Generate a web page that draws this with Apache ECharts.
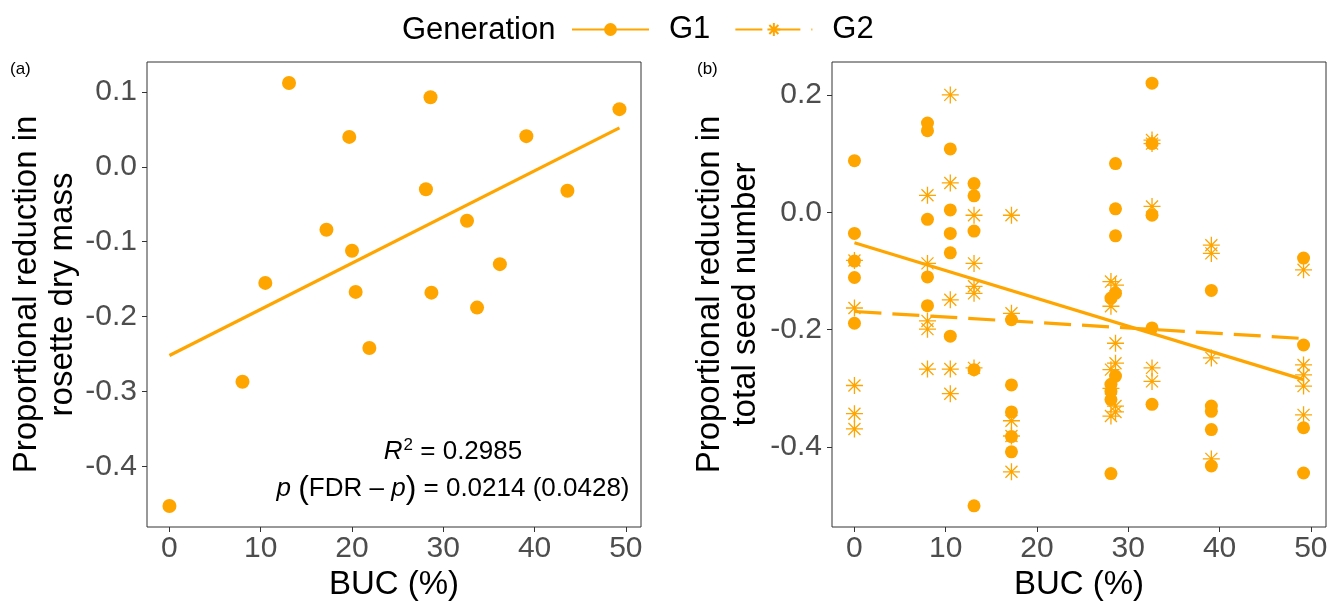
<!DOCTYPE html>
<html><head><meta charset="utf-8">
<script src="https://cdn.jsdelivr.net/npm/echarts@6/dist/echarts.min.js"></script>
<style>html,body{margin:0;padding:0;background:#fff}#c{width:1330px;height:601px}</style>
</head><body><div id="c"></div>
<script>
// ---- Panel (a): rosette dry mass ----
const bucA  = [0, 8.0, 10.5, 13.1, 17.2, 19.7, 20.0, 20.4, 21.9, 28.1, 28.6, 28.7, 32.6, 33.7, 36.2, 39.1, 43.6, 49.3];
const massA = [-0.453, -0.287, -0.155, 0.112, -0.084, 0.040, -0.112, -0.167, -0.242, -0.030, 0.093, -0.168, -0.072, -0.188, -0.130, 0.041, -0.032, 0.077];
const fitAX = [0, 49.3];
const fitAY = [-0.252, 0.052];

// ---- Panel (b): total seed number ----
const bucB = [0, 8.0, 10.5, 13.1, 17.2, 28.1, 28.6, 32.6, 39.1, 49.2];
const seedG1 = [
  [0.088, -0.036, -0.083, -0.111, -0.189],
  [0.152, 0.139, -0.012, -0.110, -0.159],
  [0.108, 0.004, -0.036, -0.069, -0.211],
  [0.049, 0.028, -0.032, -0.268, -0.500],
  [-0.183, -0.294, -0.340, -0.382, -0.408],
  [-0.146, -0.293, -0.305, -0.319, -0.445],
  [0.083, 0.006, -0.040, -0.138, -0.279],
  [0.220, 0.117, -0.005, -0.197, -0.327],
  [-0.133, -0.330, -0.339, -0.370, -0.432],
  [-0.078, -0.226, -0.367, -0.444]
];
const seedG2 = [
  [-0.082, -0.163, -0.295, -0.343, -0.369],
  [0.029, -0.087, -0.185, -0.199, -0.267],
  [0.200, 0.050, -0.149, -0.267, -0.309],
  [-0.005, -0.087, -0.126, -0.138, -0.265],
  [-0.005, -0.172, -0.355, -0.381, -0.442],
  [-0.118, -0.160, -0.268, -0.300, -0.347],
  [-0.124, -0.223, -0.257, -0.330, -0.340],
  [0.123, 0.117, 0.010, -0.265, -0.288],
  [-0.056, -0.070, -0.248, -0.420],
  [-0.098, -0.260, -0.277, -0.296, -0.345]
];
const fitBX  = [0, 49.2];
const fitG1Y = [-0.052, -0.285];
const fitG2Y = [-0.169, -0.215];

// ---- ticks ----
const xTicks  = [0, 10, 20, 30, 40, 50];
const yTicksA = [-0.4, -0.3, -0.2, -0.1, 0, 0.1];
const yTicksB = [-0.4, -0.2, 0, 0.2];

const ORANGE = '#FFA500';
const FONT = '"Liberation Sans", Arial, Helvetica, sans-serif';
const STAR = 'path://M10,0L10,20M0,10L20,10M2.93,2.93L17.07,17.07M2.93,17.07L17.07,2.93';

const pairs = (xs, ys) => xs.map((x, i) => [x, ys[i]]);
const cols = (xs, groups) => groups.flatMap((g, i) => g.map(v => [xs[i], v]));

function xAxisCfg(gi) {
  return {
    type: 'value', gridIndex: gi, min: -2.46, max: 51.66,
    axisLine: { show: false, onZero: false },
    splitLine: { show: false },
    axisTick: { show: true, length: 5, lineStyle: { color: '#333', width: 1 }, customValues: xTicks },
    axisLabel: { customValues: xTicks, fontSize: 30, color: '#4D4D4D', margin: 7, fontFamily: FONT },
    name: 'BUC (%)', nameLocation: 'middle', nameGap: 36,
    nameTextStyle: { fontSize: 33, color: '#000', fontFamily: FONT }
  };
}
function yAxisCfg(gi, min, max, ticks, name, gap) {
  return {
    type: 'value', gridIndex: gi, min: min, max: max,
    axisLine: { show: false, onZero: false },
    splitLine: { show: false },
    axisTick: { show: true, length: 5, lineStyle: { color: '#333', width: 1 }, customValues: ticks },
    axisLabel: { customValues: ticks, fontSize: 30, color: '#4D4D4D', margin: 10, fontFamily: FONT,
                 formatter: v => v.toFixed(1) },
    name: name, nameLocation: 'middle', nameRotate: 90, nameGap: gap,
    nameTextStyle: { fontSize: 33, color: '#000', fontFamily: FONT, lineHeight: 36, align: 'center' }
  };
}

const chart = echarts.init(document.getElementById('c'), null, { renderer: 'canvas' });
chart.setOption({
  animation: false,
  backgroundColor: '#fff',
  title: {
    text: 'Generation', left: 397, top: 10,
    textStyle: { fontSize: 31, fontWeight: 'normal', color: '#000', fontFamily: FONT }
  },
  legend: {
    data: ['G1', 'G2'], left: 566, top: 9, itemWidth: 77, itemHeight: 16, itemGap: 24,
    textStyle: { fontSize: 31, color: '#000', fontFamily: FONT, padding: [0, 0, 0, 15] }
  },
  grid: [
    { left: 147, top: 62, width: 494, height: 465, show: true, borderColor: '#333', borderWidth: 1,
      backgroundColor: 'transparent', containLabel: false, outerBoundsMode: 'none' },
    { left: 832, top: 62, width: 494, height: 465, show: true, borderColor: '#333', borderWidth: 1,
      backgroundColor: 'transparent', containLabel: false, outerBoundsMode: 'none' }
  ],
  xAxis: [xAxisCfg(0), xAxisCfg(1)],
  yAxis: [
    yAxisCfg(0, -0.481, 0.140, yTicksA, 'Proportional reduction in\nrosette dry mass', 61),
    yAxisCfg(1, -0.536, 0.256, yTicksB, 'Proportional reduction in\ntotal seed number', 68)
  ],
  graphic: [
    { type: 'text', left: 10, top: 61, style: { text: '(a)', fontSize: 17, fill: '#000', fontFamily: FONT } },
    { type: 'text', left: 697, top: 61, style: { text: '(b)', fontSize: 17, fill: '#000', fontFamily: FONT } },
    { type: 'text', x: 453, y: 452, style: {
        text: '{i|R}{s|2}{n| = 0.2985}', align: 'center', verticalAlign: 'middle',
        rich: {
          i: { fontSize: 26, fontStyle: 'italic', fill: '#000', fontFamily: FONT },
          s: { fontSize: 17, fill: '#000', fontFamily: FONT, verticalAlign: 'top', padding: [0, 0, 14, 1] },
          n: { fontSize: 26, fill: '#000', fontFamily: FONT }
        } } },
    { type: 'text', x: 453, y: 489, style: {
        text: '{i|p}{n| }{b|(}{n|FDR \u2013 }{i|p}{b|)}{n| = 0.0214 (0.0428)}', align: 'center', verticalAlign: 'middle',
        rich: {
          i: { fontSize: 26, fontStyle: 'italic', fill: '#000', fontFamily: FONT },
          b: { fontSize: 32, fill: '#000', fontFamily: FONT },
          n: { fontSize: 26, fill: '#000', fontFamily: FONT }
        } } }
  ],
  series: [
    // fitted lines panel (b) — also define the legend icons
    { name: 'G1', type: 'line', xAxisIndex: 1, yAxisIndex: 1, data: pairs(fitBX, fitG1Y),
      symbol: 'circle', symbolSize: 13, showSymbol: false, z: 4,
      lineStyle: { color: ORANGE, width: 3.2 }, itemStyle: { color: ORANGE } },
    { name: 'G2', type: 'line', xAxisIndex: 1, yAxisIndex: 1, data: pairs(fitBX, fitG2Y),
      symbol: STAR, symbolSize: 17, showSymbol: false, z: 4,
      lineStyle: { color: ORANGE, width: 3.2, type: [27, 11] },
      itemStyle: { color: ORANGE, borderColor: ORANGE, borderWidth: 1.3 } },
    // panel (a)
    { name: 'G1', type: 'scatter', xAxisIndex: 0, yAxisIndex: 0, data: pairs(bucA, massA),
      symbol: 'circle', symbolSize: 14, itemStyle: { color: ORANGE, opacity: 1 }, z: 2 },
    { name: 'G1', type: 'line', xAxisIndex: 0, yAxisIndex: 0, data: pairs(fitAX, fitAY),
      showSymbol: false, symbol: 'none', z: 4, lineStyle: { color: ORANGE, width: 3.2 } },
    // panel (b) points
    { name: 'G1', type: 'scatter', xAxisIndex: 1, yAxisIndex: 1, data: cols(bucB, seedG1),
      symbol: 'circle', symbolSize: 13, itemStyle: { color: ORANGE, opacity: 1 }, z: 2 },
    { name: 'G2', type: 'scatter', xAxisIndex: 1, yAxisIndex: 1, data: cols(bucB, seedG2),
      symbol: STAR, symbolSize: 17,
      itemStyle: { color: ORANGE, borderColor: ORANGE, borderWidth: 1.3, opacity: 1 }, z: 2 }
  ]
});
</script></body></html>
